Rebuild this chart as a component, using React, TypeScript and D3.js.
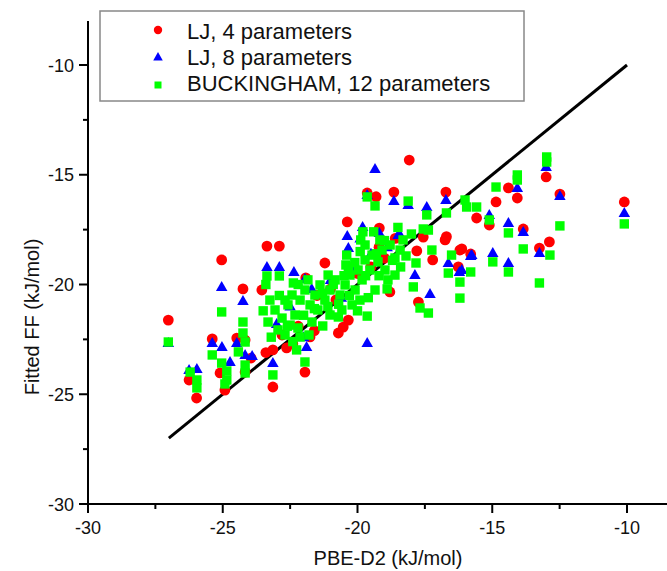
import React from "react";
import * as d3 from "d3";

const xTicks = [-30, -25, -20, -15, -10];
const yTicks = [-30, -25, -20, -15, -10];
const minorTicks = [-27.5, -22.5, -17.5, -12.5];
const seriesNames = ["LJ, 4 parameters", "LJ, 8 parameters", "BUCKINGHAM, 12 parameters"];
const fitLine: [number, number][] = [[-27, -27], [-10, -10]];

const lj4: [number, number][] = [
  [-27.02, -21.62], [-23.36, -18.25], [-22.9, -18.25], [-25.04, -18.88], [-24.25, -20.2],
  [-23.55, -20.25], [-26.25, -24.35], [-25.97, -25.17], [-25.39, -22.48], [-25.1, -24.03],
  [-24.92, -24.81], [-24.48, -22.44], [-24.17, -22.53], [-23.95, -23.35], [-24.17, -23.99],
  [-23.14, -22.98], [-23.14, -24.67], [-22.63, -22.89], [-18.08, -14.33], [-19.64, -15.83],
  [-19.31, -16.0], [-18.65, -15.79], [-16.72, -15.79], [-20.38, -17.15], [-19.19, -17.43],
  [-17.56, -17.84], [-17.8, -18.47], [-17.21, -18.88], [-16.75, -17.97], [-16.2, -18.43],
  [-15.8, -18.61], [-21.21, -19.02], [-21.92, -19.7], [-17.74, -20.8], [-20.34, -21.62],
  [-20.53, -21.94], [-20.71, -22.21], [-21.95, -23.99], [-21.76, -22.39], [-13.0, -15.1],
  [-14.07, -16.06], [-14.4, -15.6], [-14.86, -16.24], [-12.49, -15.88], [-10.1, -16.24],
  [-15.58, -16.97], [-15.11, -17.29], [-13.85, -17.47], [-12.88, -18.06], [-13.25, -18.34],
  [-16.13, -18.38], [-16.26, -19.2], [-21.5, -20.5], [-21.0, -20.2], [-22.2, -21.9],
  [-20.0, -19.5], [-19.5, -19.2], [-19.0, -18.8], [-20.8, -20.7], [-22.8, -22.3],
  [-23.4, -23.1], [-18.8, -20.34], [-16.7, -17.82], [-22.4, -22.7], [-21.6, -22.1],
  [-19.2, -18.3], [-18.6, -17.9],
];

const lj8: [number, number][] = [
  [-27.02, -22.67], [-23.36, -19.2], [-22.9, -19.2], [-25.04, -20.11], [-24.25, -20.75],
  [-26.25, -23.9], [-25.96, -23.85], [-25.39, -22.67], [-25.03, -22.85], [-24.73, -23.53],
  [-24.48, -22.67], [-24.17, -23.21], [-23.91, -23.26], [-23.14, -23.58], [-19.35, -14.74],
  [-19.64, -15.92], [-18.65, -16.2], [-18.12, -16.38], [-16.72, -16.15], [-17.43, -16.47],
  [-20.38, -17.79], [-19.81, -17.38], [-19.19, -17.65], [-18.49, -17.74], [-17.87, -19.57],
  [-16.63, -19.02], [-16.22, -19.43], [-15.8, -18.7], [-22.36, -19.43], [-21.95, -19.75],
  [-17.31, -20.43], [-19.64, -22.67], [-21.89, -22.85], [-13.0, -14.65], [-14.07, -15.6],
  [-12.49, -15.97], [-10.1, -16.74], [-15.11, -16.83], [-14.4, -17.2], [-13.85, -17.61],
  [-13.25, -18.57], [-15.76, -18.66], [-14.98, -18.57], [-14.4, -19.02], [-16.13, -19.34],
  [-20.34, -18.34], [-18.42, -17.74], [-21.7, -20.2], [-21.0, -19.8], [-20.2, -19.3],
  [-22.5, -21.0], [-19.5, -18.6], [-18.9, -18.3], [-23.0, -21.8], [-20.6, -20.6],
  [-22.0, -22.4], [-19.9, -17.9],
];

const buck: [number, number][] = [
  [-27.02, -22.62], [-23.36, -19.61], [-22.9, -19.61], [-25.04, -21.25], [-24.25, -21.71],
  [-24.25, -22.21], [-26.21, -23.99], [-25.96, -24.35], [-25.96, -24.71], [-25.39, -23.21],
  [-25.04, -23.58], [-24.85, -23.94], [-24.85, -24.35], [-24.92, -24.53], [-24.42, -23.07],
  [-24.17, -23.67], [-24.17, -24.03], [-24.17, -22.62], [-23.14, -24.12], [-19.64, -16.01],
  [-19.35, -16.42], [-18.12, -16.2], [-16.01, -16.15], [-15.95, -16.47], [-15.58, -16.47],
  [-17.43, -16.83], [-19.88, -17.97], [-17.56, -17.47], [-20.4, -18.66], [-20.34, -19.2],
  [-17.83, -19.02], [-17.93, -20.11], [-16.63, -19.48], [-16.51, -18.66], [-16.2, -19.89],
  [-15.8, -19.43], [-16.2, -20.62], [-22.38, -19.93], [-17.68, -21.07], [-17.37, -21.3],
  [-19.64, -21.44], [-21.29, -21.89], [-20.71, -21.48], [-22.26, -22.98], [-21.95, -23.53],
  [-22.13, -22.39], [-12.98, -14.19], [-12.98, -14.42], [-14.07, -15.01], [-14.07, -15.24],
  [-14.86, -15.56], [-10.1, -17.24], [-12.49, -17.33], [-15.11, -17.06], [-14.4, -17.65],
  [-13.85, -18.38], [-12.86, -18.66], [-14.98, -18.97], [-14.4, -19.43], [-13.25, -19.93],
  [-17.24, -18.43], [-16.7, -16.74], [-17.37, -17.52],
  [-23.25, -20.71], [-23.06, -21.16], [-22.8, -21.53], [-22.58, -20.93], [-22.5, -21.85],
  [-22.69, -22.3], [-22.95, -22.07], [-23.32, -21.71], [-22.32, -21.39], [-22.13, -20.71],
  [-21.95, -20.25], [-21.76, -20.93], [-21.58, -20.48], [-21.39, -20.02], [-21.47, -21.16],
  [-21.21, -20.71], [-21.02, -20.25], [-20.83, -19.79], [-20.65, -20.48], [-20.46, -20.02],
  [-20.28, -19.57], [-20.09, -20.25], [-19.98, -19.34], [-19.83, -19.79], [-19.72, -18.88],
  [-19.54, -19.34], [-19.46, -18.66], [-19.24, -18.97], [-19.09, -18.43], [-18.98, -19.34],
  [-18.79, -18.2], [-18.61, -18.79], [-18.42, -18.43], [-18.31, -17.97], [-18.87, -19.79],
  [-19.35, -20.25], [-19.91, -20.71], [-20.2, -20.93], [-20.58, -21.16], [-21.02, -21.39],
  [-21.69, -21.71], [-22.21, -21.98], [-22.69, -20.71], [-22.43, -20.48], [-21.84, -19.79],
  [-21.09, -19.57], [-20.43, -19.11], [-19.72, -18.2], [-19.17, -17.97], [-18.61, -19.57],
  [-23.5, -21.2], [-23.2, -22.4], [-22.9, -20.5], [-22.6, -21.9], [-22.4, -22.6],
  [-22.0, -21.4], [-21.8, -22.3], [-21.6, -21.1], [-21.3, -20.4], [-21.1, -21.0],
  [-20.9, -20.0], [-20.7, -20.9], [-20.5, -19.6], [-20.3, -20.5], [-20.1, -19.0],
  [-19.9, -18.5], [-19.7, -19.6], [-19.6, -20.6], [-19.4, -17.6], [-19.3, -18.6],
  [-19.2, -19.6], [-19.0, -18.0], [-18.9, -20.2], [-18.7, -18.9], [-18.5, -17.4],
  [-18.4, -19.2], [-18.2, -18.7], [-18.0, -17.7], [-23.4, -20.0], [-22.2, -20.0],
  [-20.0, -21.2], [-19.8, -17.6],
];

const FONT = "'Liberation Sans', Arial, Helvetica, sans-serif";

function tri(cx: number, cy: number, w: number, h: number) {
  return `M${cx},${cy - h * 0.6}L${cx + w / 2},${cy + h * 0.4}L${cx - w / 2},${cy + h * 0.4}Z`;
}

export default function App() {
  const W = 667, H = 571;
  const x0 = 88, y0 = 504;
  const x = d3.scaleLinear().domain([-30, -10]).range([x0, 627]);
  const y = d3.scaleLinear().domain([-30, -10]).range([y0, 65]);
  const xEnd = W;
  const yTop = y(-8);
  const line = d3.line<[number, number]>().x((d) => x(d[0])).y((d) => y(d[1]));

  const legendRows = [30, 57, 85];
  const legendText = [39, 65, 91];

  return (
    <svg width={W} height={H} style={{ position: "absolute", left: 0, top: 0, background: "#fff" }}>
      <rect x={0} y={0} width={W} height={H} fill="#fff" />
      {/* axes */}
      <line x1={x0} x2={xEnd} y1={y0} y2={y0} stroke="#000" strokeWidth={2} />
      <line x1={x0} x2={x0} y1={yTop} y2={y0} stroke="#000" strokeWidth={2} />
      {xTicks.map((t) => (
        <g key={"xt" + t}>
          <line x1={x(t)} x2={x(t)} y1={y0} y2={y0 + 9} stroke="#000" strokeWidth={2} />
          <text x={x(t)} y={534} textAnchor="middle" fontFamily={FONT} fontSize={18} fill="#111">
            {t}
          </text>
        </g>
      ))}
      {minorTicks.map((t) => (
        <line key={"xm" + t} x1={x(t)} x2={x(t)} y1={y0} y2={y0 + 5} stroke="#000" strokeWidth={2} />
      ))}
      {yTicks.map((t) => (
        <g key={"yt" + t}>
          <line x1={x0 - 9} x2={x0} y1={y(t)} y2={y(t)} stroke="#000" strokeWidth={2} />
          <text x={74} y={y(t) + 6.5} textAnchor="end" fontFamily={FONT} fontSize={18} fill="#111">
            {t}
          </text>
        </g>
      ))}
      {minorTicks.map((t) => (
        <line key={"ym" + t} x1={x0 - 5} x2={x0} y1={y(t)} y2={y(t)} stroke="#000" strokeWidth={2} />
      ))}
      <text x={388} y={565} textAnchor="middle" fontFamily={FONT} fontSize={20} fill="#111">
        PBE-D2 (kJ/mol)
      </text>
      <text
        transform={`translate(39,317) rotate(-90)`}
        textAnchor="middle"
        fontFamily={FONT}
        fontSize={20}
        fill="#111"
      >
        Fitted FF  (kJ/mol)
      </text>

      <path d={line(fitLine) || ""} stroke="#000" strokeWidth={3} fill="none" />

      {/* data */}
      <g>
        {lj4.map((d, i) => (
          <circle key={"r" + i} cx={x(d[0])} cy={y(d[1])} r={5.4} fill="#ff0000" />
        ))}
      </g>
      <g>
        {lj8.map((d, i) => (
          <path key={"b" + i} d={tri(x(d[0]), y(d[1]), 11.5, 10)} fill="#0000ff" />
        ))}
      </g>
      <g>
        {buck.map((d, i) => (
          <rect key={"g" + i} x={x(d[0]) - 4.7} y={y(d[1]) - 4.7} width={9.4} height={9.4} fill="#00ff00" />
        ))}
      </g>

      {/* legend */}
      <rect x={100} y={11} width={424} height={90} fill="#fff" stroke="#888" strokeWidth={1.5} />
      <circle cx={158} cy={legendRows[0]} r={4.2} fill="#ff0000" />
      <path d={tri(158, legendRows[1], 9.5, 8.5)} fill="#0000ff" />
      <rect x={154.5} y={legendRows[2] - 3.5} width={7} height={7} fill="#00ff00" />
      {seriesNames.map((s, i) => (
        <text key={s} x={187} y={legendText[i]} fontFamily={FONT} fontSize={22} fill="#111">
          {s}
        </text>
      ))}
    </svg>
  );
}
